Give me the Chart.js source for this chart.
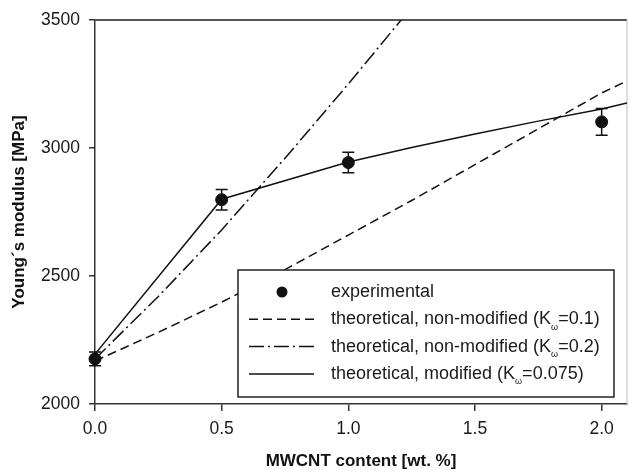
<!DOCTYPE html>
<html>
<head>
<meta charset="utf-8">
<script src="https://cdn.jsdelivr.net/npm/chart.js@4/dist/chart.umd.min.js"></script>
<style>
  html, body { margin:0; padding:0; background:#fff; }
  #wrap { width:629px; height:472px; }
</style>
</head>
<body>
<div id="wrap"><canvas id="c"></canvas></div>
<script>
// --- Data ---
const xTicks = [0, 0.5, 1.0, 1.5, 2.0];
const yTicks = [2000, 2500, 3000, 3500];

const expX = [0, 0.5, 1.0, 2.0];
const expY = [2176, 2798, 2943, 3102];
const expErr = [27, 40, 40, 52];

const k01X = [0, 0.25, 0.5, 0.75, 1.0, 1.25, 1.5, 1.75, 2.0, 2.1];
const k01Y = [2168, 2280, 2398, 2525, 2660, 2795, 2935, 3075, 3215, 3262];

const k02X = [0, 0.25, 0.5, 0.75, 1.0, 1.25];
const k02Y = [2176, 2420, 2680, 2960, 3250, 3550];

const modX = [0, 0.5, 1.0, 1.25, 1.5, 1.75, 2.0, 2.1];
const modY = [2195, 2800, 2945, 3002, 3055, 3105, 3152, 3176];

const legendItems = [
  { pre: 'experimental' },
  { pre: 'theoretical, non-modified (K', post: '=0.1)', dash: [9, 5] },
  { pre: 'theoretical, non-modified (K', post: '=0.2)', dash: [15, 4, 2, 4] },
  { pre: 'theoretical, modified (K', post: '=0.075)', dash: [] }
];

const FONT = '"Liberation Sans", Arial, sans-serif';
const INK = '#111';

const pts = (xs, ys) => xs.map((x, i) => ({ x, y: ys[i] }));

// --- Plugins ---
const frame = {
  id: 'frame',
  beforeDatasetsDraw(chart) {
    const { ctx, chartArea: a } = chart;
    ctx.save();
    ctx.lineWidth = 2;
    ctx.strokeStyle = '#555';
    ctx.beginPath(); ctx.moveTo(a.left, a.top); ctx.lineTo(a.right, a.top); ctx.stroke();
    ctx.lineWidth = 1;
    ctx.strokeStyle = '#bbb';
    ctx.beginPath(); ctx.moveTo(a.right, a.top); ctx.lineTo(a.right, a.bottom); ctx.stroke();
    ctx.restore();
  }
};

const errorBars = {
  id: 'errorBars',
  afterDatasetsDraw(chart) {
    const { ctx, scales: { x, y } } = chart;
    ctx.save();
    ctx.strokeStyle = INK;
    ctx.lineWidth = 1.5;
    expX.forEach((v, i) => {
      const px = x.getPixelForValue(v);
      const top = y.getPixelForValue(expY[i] + expErr[i]);
      const bot = y.getPixelForValue(expY[i] - expErr[i]);
      ctx.beginPath();
      ctx.moveTo(px, top); ctx.lineTo(px, bot);
      ctx.moveTo(px - 6, top); ctx.lineTo(px + 6, top);
      ctx.moveTo(px - 6, bot); ctx.lineTo(px + 6, bot);
      ctx.stroke();
    });
    ctx.restore();
  }
};

const boxLegend = {
  id: 'boxLegend',
  afterDraw(chart) {
    const { ctx } = chart;
    const bx = 238, by = 270, bw = 376, bh = 127;
    ctx.save();
    ctx.fillStyle = '#fff';
    ctx.fillRect(bx, by, bw, bh);
    ctx.strokeStyle = '#222';
    ctx.lineWidth = 1.5;
    ctx.strokeRect(bx, by, bw, bh);
    legendItems.forEach((it, i) => {
      const cy = 292 + i * 27.3;
      ctx.strokeStyle = INK; ctx.fillStyle = INK;
      if (i === 0) {
        ctx.beginPath(); ctx.arc(282, cy, 5.5, 0, Math.PI * 2); ctx.fill();
      } else {
        ctx.lineWidth = 1.5;
        ctx.setLineDash(it.dash);
        ctx.beginPath(); ctx.moveTo(249, cy); ctx.lineTo(314, cy); ctx.stroke();
        ctx.setLineDash([]);
      }
      ctx.fillStyle = '#1a1a1a';
      ctx.textBaseline = 'middle';
      ctx.font = '18px ' + FONT;
      let tx = 331;
      ctx.fillText(it.pre, tx, cy);
      if (it.post) {
        tx += ctx.measureText(it.pre).width;
        ctx.font = '9px ' + FONT;
        ctx.fillText('ω', tx, cy + 8);
        tx += ctx.measureText('ω').width;
        ctx.font = '18px ' + FONT;
        ctx.fillText(it.post, tx, cy);
      }
    });
    ctx.restore();
  }
};

// --- Chart ---
const lineDs = (label, xs, ys, dash) => ({
  label, data: pts(xs, ys), showLine: true, pointRadius: 0,
  borderColor: INK, borderWidth: 1.5, borderDash: dash, tension: 0
});

new Chart(document.getElementById('c'), {
  type: 'scatter',
  data: {
    datasets: [
      lineDs('K0.1', k01X, k01Y, [9, 5]),
      lineDs('K0.2', k02X, k02Y, [15, 4, 2, 4]),
      lineDs('mod', modX, modY, []),
      { label: 'experimental', data: pts(expX, expY), pointRadius: 6, pointBackgroundColor: INK,
        pointBorderColor: INK, clip: false }
    ]
  },
  options: {
    responsive: true, maintainAspectRatio: false, animation: false,
    layout: { autoPadding: false, padding: { top: 20, right: 2, left: 0, bottom: 0 } },
    plugins: { legend: { display: false }, tooltip: { enabled: false } },
    scales: {
      x: {
        type: 'linear', min: 0, max: 2.1,
        afterFit: s => { s.height = 68; s.paddingLeft = 0; s.paddingRight = 0; },
        afterBuildTicks: s => { s.ticks = xTicks.map(v => ({ value: v })); },
        grid: { drawOnChartArea: false, drawTicks: true, tickLength: 7, color: '#333', lineWidth: 1.5 },
        border: { display: true, color: '#333', width: 1.5 },
        ticks: { color: '#1a1a1a', font: { family: FONT, size: 17.5 }, padding: 8,
          maxRotation: 0, callback: v => Number(v).toFixed(1) },
        title: { display: true, text: 'MWCNT content [wt. %]', color: '#111',
          font: { family: FONT, size: 17, weight: 'bold' }, padding: { top: 0, bottom: 0 } }
      },
      y: {
        type: 'linear', min: 2000, max: 3500,
        afterFit: s => { s.width = 95; s.paddingTop = 0; s.paddingBottom = 0; },
        afterBuildTicks: s => { s.ticks = yTicks.map(v => ({ value: v })); },
        grid: { drawOnChartArea: false, drawTicks: true, tickLength: 6, color: '#333', lineWidth: 1.5 },
        border: { display: true, color: '#333', width: 1.5 },
        ticks: { color: '#1a1a1a', font: { family: FONT, size: 17.5 }, padding: 9,
          callback: v => String(v) },
        title: { display: true, text: 'Young´s modulus [MPa]', color: '#111',
          font: { family: FONT, size: 17, weight: 'bold' }, padding: { top: 9, bottom: 0 } }
      }
    }
  },
  plugins: [frame, errorBars, boxLegend]
});
</script>
</body>
</html>
